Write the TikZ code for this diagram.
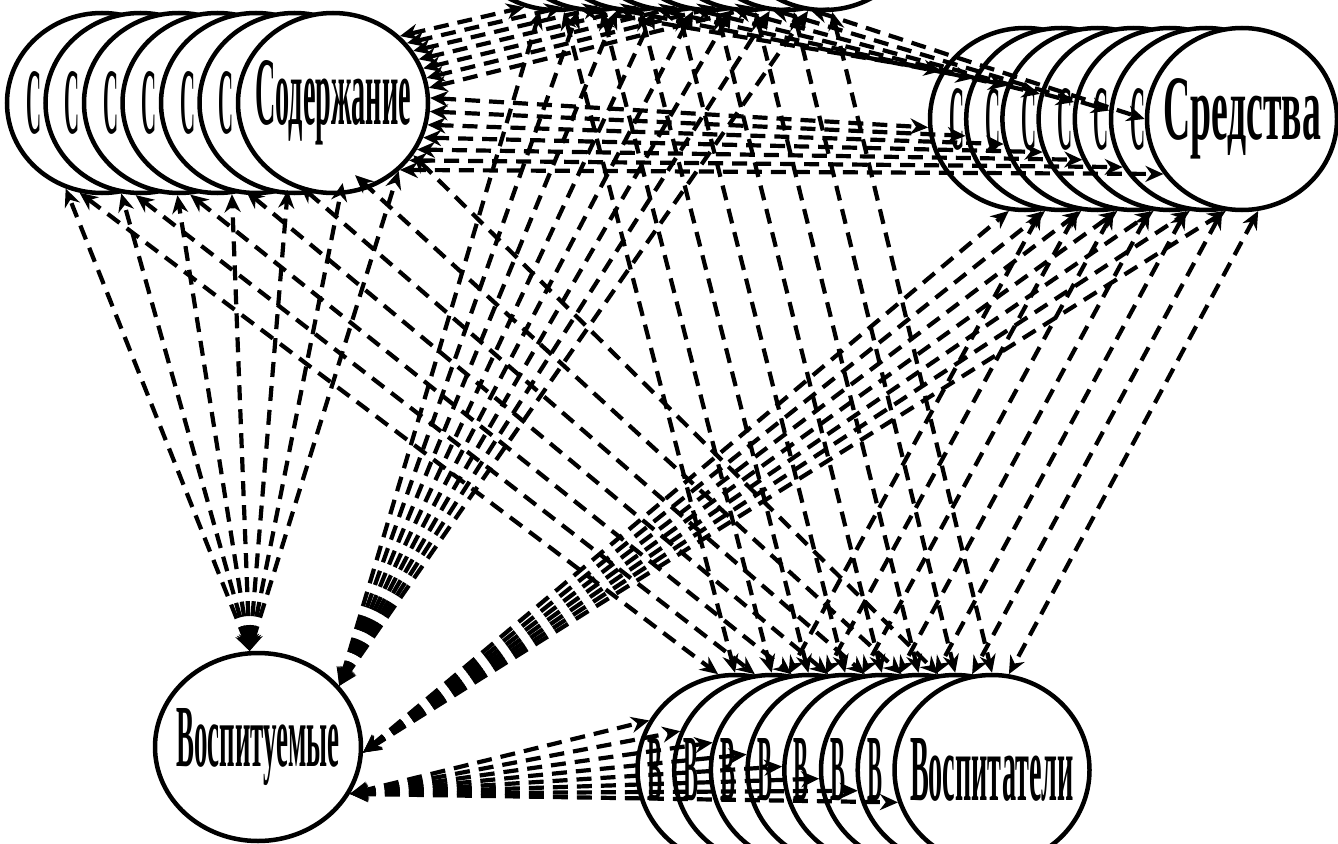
\documentclass[tikz,border=0pt]{standalone}
\usepackage{fontspec}
\setmainfont{Liberation Serif}
\usepackage{graphicx}
\usetikzlibrary{shapes.geometric,arrows.meta}

% squeezed label: width, cap height, text (zero-width box, so the oval keeps its size)
\newcommand{\sqzlabel}[3]{\makebox[0pt]{\resizebox{#1}{#2}{\bfseries #3}}}
% back ovals: only the first letter shows, #1 left of the centre
\newcommand{\backlbl}[3]{\makebox[0pt][l]{\hspace{-#1}\resizebox{15pt}{#2}{\bfseries #3}}}

\begin{document}
\begin{tikzpicture}[x=1pt,y=-1pt,
  oval/.style={ellipse,draw=black,fill=white,line width=4.5pt,inner sep=0pt,
               minimum width=190pt,minimum height=180pt},
  link/.style={{Stealth[length=18pt,width=16pt]}-{Stealth[length=18pt,width=16pt]},
               line width=4.2pt,dash pattern=on 15pt off 9pt}
]
\useasboundingbox (0,0) rectangle (1338,843);
\clip (0,0) rectangle (1338,843);

% ==========  Stacks of ovals  ==========
% top stack (only its lower rim is in the frame)
\foreach \i in {0,...,7}
  \node[oval] (T\i) at ({556+38.3*\i},-80) {};

\foreach \i in {0,...,5}
  \node[oval] (S\i) at ({102+38.5*\i},103) {\backlbl{76pt}{62pt}{С}};
\node[oval] (S6) at (333,103) {\sqzlabel{156pt}{64pt}{Содержание}};

\foreach \i in {0,...,5}
  \node[oval,minimum height=182pt] (M\i) at ({1025+36.2*\i},119)
    {\backlbl{76pt}{61pt}{С}};
\node[oval,minimum height=182pt] (M6) at (1242,119)
  {\sqzlabel{158pt}{61pt}{Средства}};

\foreach \i in {0,...,6}
  \node[oval,minimum width=195pt,minimum height=190pt] (P\i) at ({735+36.7*\i},770)
    {\backlbl{88pt}{62pt}{В}};
\node[oval,minimum width=195pt,minimum height=190pt] (P7) at (992,770)
  {\sqzlabel{164pt}{62pt}{Воспитатели}};

\node[oval,minimum width=206pt,minimum height=188pt] (V) at (258,747)
  {\sqzlabel{163pt}{58pt}{Воспитуемые}};

% ==========  Links  ==========
% Воспитуемые <-> Содержание
\foreach \i/\a in {0/-113,1/-102,2/-91,3/-81,4/-70,5/-59,6/-46}
  \draw[link] (V.95) -- (S\i.\a);
% Воспитуемые <-> top stack
\foreach \i in {0,...,7}
  \draw[link] (V.37) -- (T\i.-100);
% Воспитуемые <-> Средства
\foreach \i in {0,...,6}
  \draw[link] (V.-3) -- (M\i.-100);
% Воспитуемые <-> Воспитатели
\foreach \i/\a in {0/150,1/157,2/164,3/171,4/178,5/185,6/192,7/199}
  \draw[link] (V.-27) -- (P\i.\a);

% Содержание <-> Воспитатели
\foreach \i/\a in {0/-104,1/-93,2/-83,3/-72,4/-62,5/-50,6/-33}
  \draw[link] (S\i.\a) -- (P\i.100);
% top stack <-> Воспитатели
\foreach \i in {0,...,7}
  \draw[link] (T\i.-85) -- (P\i.90);
% Средства <-> Воспитатели
\foreach \i/\j in {0/1,1/2,2/3,3/4,4/5,5/6,6/7}
  \draw[link] (M\i.-80) -- (P\j.80);

% Содержание <-> top stack
\foreach \i/\a in {0/45,1/39,2/33,3/27,4/21,5/15,6/9}
  \draw[link] (S6.\a) -- (T\i.-110);
% top stack <-> Средства
\foreach \i/\a in {0/150,1/155,2/160,3/165,4/170,5/175,6/180}
  \draw[link] (T\i.-75) -- (M\i.\a);
% Содержание <-> Средства
\foreach \i/\a/\b in {0/3/185,1/-5/190,2/-13/195,3/-21/200,4/-29/205,5/-37/210,6/-45/215}
  \draw[link] (S6.\a) -- (M\i.\b);

\end{tikzpicture}
\end{document}
